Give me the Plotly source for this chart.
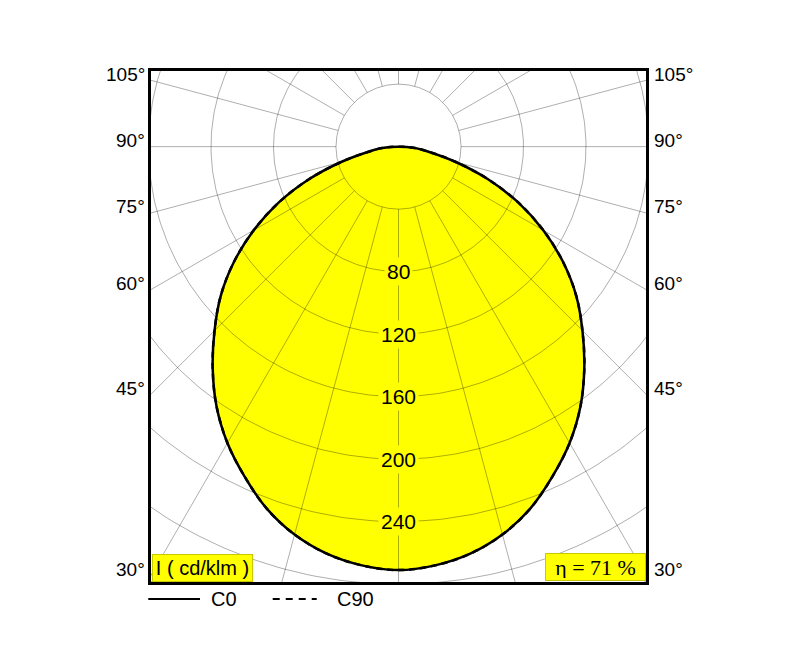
import numpy as np
import plotly.graph_objects as go

# ---- data ----
gamma_deg = [0, 5, 10, 15, 20, 25, 30, 35, 40, 45, 50, 55, 60, 65, 70, 75, 80, 85, 90]
c0_cdklm = [271, 269, 264.5, 257, 246.5, 233, 219, 203, 185, 166.5, 148.5, 128.5,
            107, 84.5, 61, 38, 20.5, 10.5, 0]
c90_cdklm = [271, 269, 264.5, 257, 246.5, 233, 219, 203, 185, 166.5, 148.5, 128.5,
             107, 84.5, 61, 38, 20.5, 10.5, 0]
radial_grid = [40, 80, 120, 160, 200, 240, 280, 320]
radial_labels = [80, 120, 160, 200, 240]
angle_grid_step = 15
angle_labels = [30, 45, 60, 75, 90, 105]
unit_label = "I ( cd/klm )"
eta_label = "η = 71 %"
series_names = ["C0", "C90"]

# ---- axis extents (cd/klm) ----
X_HALF = 158.4
Y_TOP = 48.4
Y_BOT = -278.6

SANS = "Liberation Sans, Arial, sans-serif"
SERIF = "Liberation Serif, Times New Roman, serif"


def curve_xy(angles, vals):
    a = np.array(angles, dtype=float)
    v = np.array(vals, dtype=float)
    # full plane: left half (C180 mirror) then right half
    a_full = np.concatenate([-a[::-1], a[1:]])
    v_full = np.concatenate([v[::-1], v[1:]])
    t = np.radians(a_full)
    return v_full * np.sin(t), -v_full * np.cos(t)


fig = go.Figure()

# yellow fill
fx, fy = curve_xy(gamma_deg, c0_cdklm)
fig.add_trace(go.Scatter(x=fx, y=fy, fill="toself", fillcolor="#ffff00",
                         line=dict(width=0, shape="spline"), mode="lines",
                         hoverinfo="skip", showlegend=False))

# grid circles
phi = np.linspace(0, 2 * np.pi, 361)
gx, gy = [], []
for r in radial_grid:
    gx += list(r * np.sin(phi)) + [None]
    gy += list(r * np.cos(phi)) + [None]
# radial lines
for ang in range(0, 360, angle_grid_step):
    t = np.radians(ang)
    gx += [radial_grid[0] * np.sin(t), 420 * np.sin(t), None]
    gy += [-radial_grid[0] * np.cos(t), -420 * np.cos(t), None]
fig.add_trace(go.Scatter(x=gx, y=gy, mode="lines",
                         line=dict(color="rgba(0,0,0,0.4)", width=0.8),
                         hoverinfo="skip", showlegend=False))

# curves
cx, cy = curve_xy(gamma_deg, c90_cdklm)
fig.add_trace(go.Scatter(x=cx, y=cy, mode="lines", name=series_names[1],
                         line=dict(color="black", width=2.5, dash="6px,5px", shape="spline"),
                         showlegend=False))
cx, cy = curve_xy(gamma_deg, c0_cdklm)
fig.add_trace(go.Scatter(x=cx, y=cy, mode="lines", name=series_names[0],
                         line=dict(color="black", width=2.5, shape="spline"),
                         showlegend=False))

annotations = []
# radial value labels
for r in radial_labels:
    annotations.append(dict(x=0, y=-r, xref="x", yref="y", text=str(r),
                            showarrow=False, bgcolor="#ffff00", borderpad=2,
                            font=dict(family=SANS, size=21, color="black")))
# angle labels on both frame edges
for ang in angle_labels:
    yv = -X_HALF / np.tan(np.radians(ang)) if ang != 90 else 0.0
    txt = f"{ang}°"
    annotations.append(dict(x=0, y=yv, xref="paper", yref="y", text=txt,
                            showarrow=False, xanchor="right", yanchor="middle",
                            xshift=-4, yshift=6,
                            font=dict(family=SANS, size=19, color="black")))
    annotations.append(dict(x=1, y=yv, xref="paper", yref="y", text=txt,
                            showarrow=False, xanchor="left", yanchor="middle",
                            xshift=6, yshift=6,
                            font=dict(family=SANS, size=19, color="black")))
# unit box and efficiency box
annotations.append(dict(x=0, y=0, xref="paper", yref="paper", text=unit_label,
                        showarrow=False, xanchor="left", yanchor="bottom",
                        xshift=1, yshift=0, bgcolor="#ffff00", bordercolor="#c8c800",
                        borderwidth=1, borderpad=2, width=95, height=22,
                        font=dict(family=SANS, size=20, color="black")))
annotations.append(dict(x=1, y=0, xref="paper", yref="paper", text=eta_label,
                        showarrow=False, xanchor="right", yanchor="bottom",
                        xshift=0, yshift=1, bgcolor="#ffff00", bordercolor="#c8c800",
                        borderwidth=1, borderpad=2, width=95, height=22,
                        font=dict(family=SERIF, size=22, color="black")))
# legend texts
annotations.append(dict(x=0.118, y=-0.0333, xref="paper", yref="paper", text=series_names[0],
                        showarrow=False, xanchor="left", yanchor="middle",
                        font=dict(family=SANS, size=20, color="black")))
annotations.append(dict(x=0.371, y=-0.0333, xref="paper", yref="paper", text=series_names[1],
                        showarrow=False, xanchor="left", yanchor="middle",
                        font=dict(family=SANS, size=20, color="black")))

shapes = [
    dict(type="line", xref="paper", yref="paper", x0=-0.0055, x1=0.099, y0=-0.0333, y1=-0.0333,
         line=dict(color="black", width=2)),
    dict(type="line", xref="paper", yref="paper", x0=0.2459, x1=0.3348, y0=-0.0333, y1=-0.0333,
         line=dict(color="black", width=2, dash="7px,6px")),
]

fig.update_layout(
    width=795, height=650,
    margin=dict(l=143, r=157, t=63, b=76),
    paper_bgcolor="white", plot_bgcolor="white",
    annotations=annotations, shapes=shapes,
    showlegend=False,
)
fig.update_xaxes(range=[-X_HALF, X_HALF], showgrid=False, zeroline=False,
                 showticklabels=False, ticks="", showline=True, mirror=True,
                 linecolor="black", linewidth=3)
fig.update_yaxes(range=[Y_BOT, Y_TOP], showgrid=False, zeroline=False,
                 showticklabels=False, ticks="", showline=True, mirror=True,
                 linecolor="black", linewidth=3)

fig.write_html("out.html")
